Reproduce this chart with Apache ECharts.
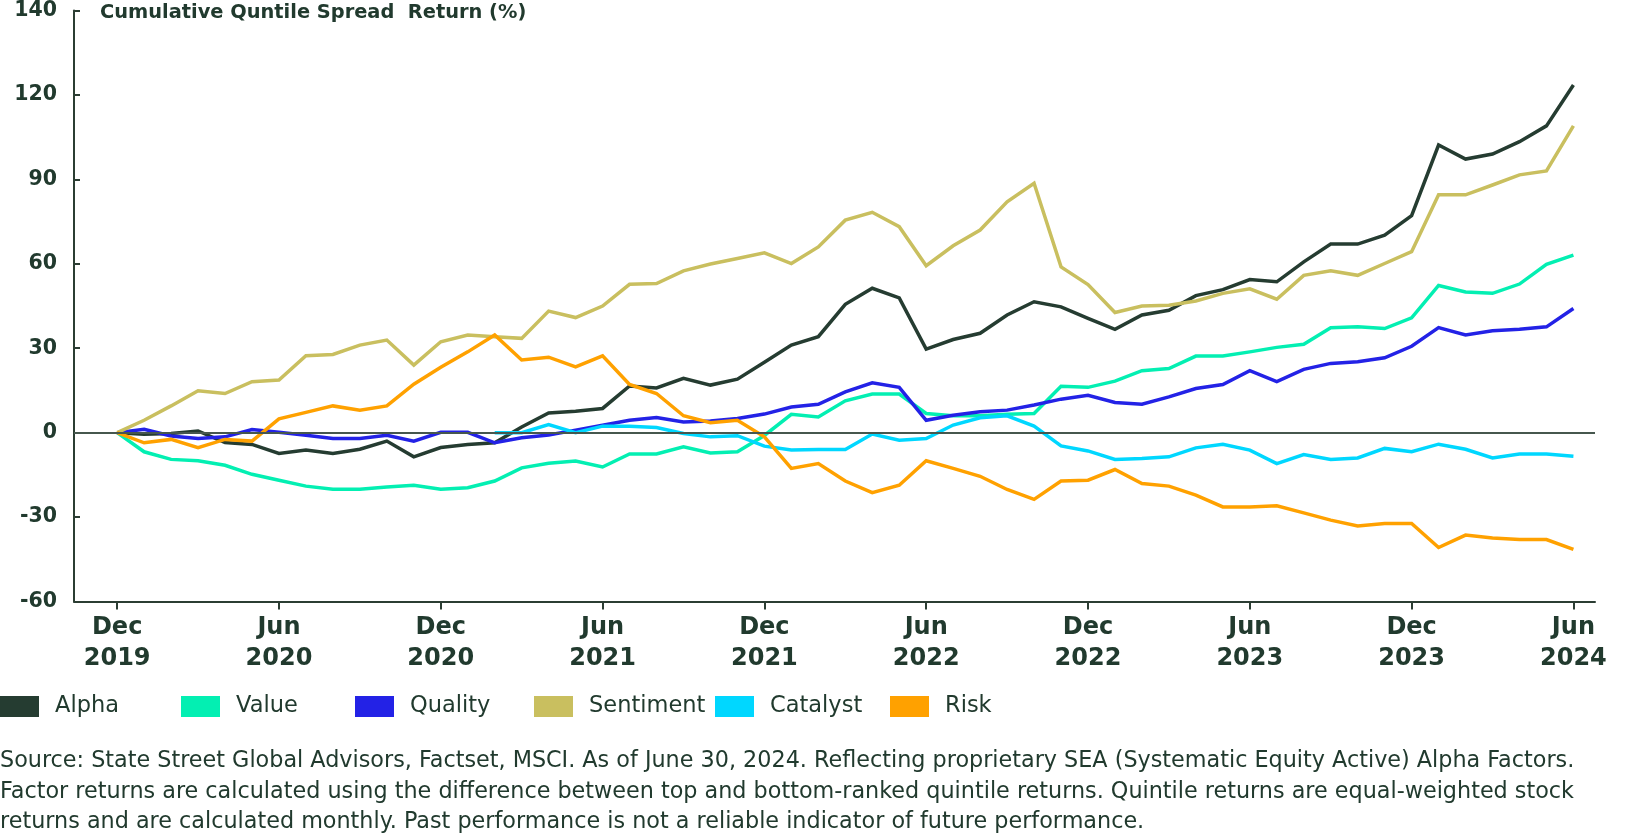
<!DOCTYPE html>
<html>
<head>
<meta charset="utf-8">
<script src="https://cdn.jsdelivr.net/npm/echarts@6/dist/echarts.min.js"></script>
<style>
html,body{margin:0;padding:0;background:#fff;}
#chart{width:1626px;height:840px;}
</style>
</head>
<body>
<div id="chart"></div>
<script>
// Month index 0 = Dec 2019 ... 54 = Jun 2024
const xTickValues = [0, 6, 12, 18, 24, 30, 36, 42, 48, 54];
const xTickLabels = ['Dec\n2019','Jun\n2020','Dec\n2020','Jun\n2021','Dec\n2021','Jun\n2022','Dec\n2022','Jun\n2023','Dec\n2023','Jun\n2024'];
const yTickLabels = ['-60','-30','0','30','60','90','120','140'];

const alpha = [0,-0.6,-0.3,0.6,-3.5,-4.2,-7.4,-6.2,-7.4,-5.9,-3.0,-8.6,-5.3,-4.2,-3.6,2.0,7.0,7.6,8.6,16.6,15.9,19.3,16.9,19.0,25.0,31.1,34.1,45.6,51.3,47.9,29.7,33.1,35.3,41.8,46.5,44.7,40.6,36.7,41.8,43.5,48.7,50.8,54.4,53.6,60.7,67.0,67.0,70.2,77.1,102.2,97.2,99.0,103.4,109.0,123.5];
const value = [0,-6.8,-9.5,-10.0,-11.6,-14.8,-16.9,-19.0,-20.1,-20.1,-19.3,-18.7,-20.1,-19.6,-17.2,-12.5,-10.9,-10.1,-12.2,-7.6,-7.6,-5.0,-7.2,-6.8,-1.0,6.5,5.6,11.3,13.7,13.7,6.8,6.0,6.0,6.5,6.8,16.5,16.1,18.3,22.0,22.8,27.2,27.2,28.7,30.3,31.4,37.3,37.6,37.0,40.8,52.3,50.0,49.5,52.8,59.8,63.1];
const quality = [0,1.2,-1.2,-2.1,-1.5,1.1,0.1,-0.9,-2.1,-2.1,-0.9,-3.0,0.1,0.1,-3.6,-1.8,-0.8,0.9,2.6,4.4,5.4,3.8,4.1,5.0,6.6,9.1,10.1,14.5,17.7,16.1,4.4,6.2,7.4,8.0,9.8,11.9,13.3,10.7,10.1,12.7,15.7,17.1,22.0,18.1,22.5,24.6,25.2,26.6,30.7,37.3,34.7,36.2,36.7,37.6,44.1];
const sentiment = [0,4.4,9.5,14.9,13.9,18.1,18.7,27.3,27.8,31.1,32.9,24.0,32.3,34.7,34.1,33.5,43.2,40.9,45.0,52.7,53.0,57.5,59.9,61.9,63.9,60.1,66.0,75.5,78.3,73.2,59.3,66.4,72.0,82.0,88.6,58.9,52.6,42.7,45.0,45.3,46.8,49.5,51.1,47.4,55.9,57.5,55.9,60.1,64.3,84.5,84.5,88.0,91.6,93.0,109.0];
const catalyst = [null,null,null,null,null,null,null,null,null,null,null,null,null,null,0,0,2.9,0,2.3,2.3,1.8,-0.3,-1.5,-1.1,-4.8,-6.2,-6.0,-6.0,-0.5,-2.7,-2.1,2.7,5.3,6.0,2.3,-4.7,-6.5,-9.5,-9.2,-8.6,-5.4,-4.1,-6.2,-11.0,-7.8,-9.5,-9.0,-5.6,-6.8,-4.1,-5.9,-9.0,-7.6,-7.6,-8.4];
const risk = [0,-3.6,-2.4,-5.3,-2.4,-3.0,4.9,7.2,9.5,8.0,9.5,17.2,23.2,28.7,34.7,25.8,26.8,23.4,27.3,17.1,13.9,6.0,3.5,4.4,-1.5,-12.7,-11.0,-17.2,-21.3,-18.7,-10.0,-12.7,-15.5,-20.2,-23.7,-17.2,-16.9,-13.1,-18.1,-19.0,-22.2,-26.4,-26.4,-26.0,-28.5,-31.1,-33.2,-32.3,-32.3,-40.8,-36.4,-37.4,-38.0,-38.0,-41.5];

const seriesNames = ['Alpha','Value','Quality','Sentiment','Catalyst','Risk'];
const seriesData = [alpha, value, quality, sentiment, catalyst, risk];
const seriesColors = ['#253c31','#03efb2','#2322e6','#c9bf5f','#00d7ff','#ffa100'];

const titleText = 'Cumulative Quntile Spread  Return (%)';
const footnote = [
  'Source: State Street Global Advisors, Factset, MSCI. As of June 30, 2024. Reflecting proprietary SEA (Systematic Equity Active) Alpha Factors.',
  'Factor returns are calculated using the difference between top and bottom-ranked quintile returns. Quintile returns are equal-weighted stock',
  'returns and are calculated monthly. Past performance is not a reliable indicator of future performance.'
];

const TXT = '#213a2e';
const FONT = 'DejaVu Sans';
const legendLefts = [0, 181, 355, 534, 715, 890];

const chart = echarts.init(document.getElementById('chart'));

const series = seriesNames.map((n, k) => ({
  name: n,
  type: 'line',
  data: seriesData[k].map((v, i) => [i, v]),
  showSymbol: false,
  symbol: 'none',
  connectNulls: false,
  lineStyle: { width: 3.5, color: seriesColors[k], join: 'miter' },
  itemStyle: { color: seriesColors[k] },
  z: 3,
  animation: false
}));
// zero line
series.unshift({
  name: '__zero',
  type: 'line',
  data: [],
  z: 2,
  markLine: {
    silent: true,
    symbol: ['none','none'],
    label: { show: false },
    lineStyle: { color: '#46574e', width: 2, type: 'solid' },
    data: [{ yAxis: 0 }],
    animation: false
  }
});

const legends = seriesNames.map((n, k) => ({
  data: [n],
  left: legendLefts[k], top: 695, padding: 0,
  icon: 'rect',
  itemWidth: 39, itemHeight: 21,
  selectedMode: false,
  textStyle: { fontFamily: FONT, fontSize: 22.5, color: TXT, padding: [0,0,0,11] }
}));

chart.setOption({
  backgroundColor: '#ffffff',
  animation: false,
  title: [
    {
      text: titleText,
      left: 100, top: 3, padding: 0,
      textStyle: { fontFamily: FONT, fontWeight: 'bold', fontSize: 19.4, color: TXT }
    },
    {
      text: footnote.join('\n'),
      left: 0, top: 746, padding: 0,
      textStyle: { fontFamily: FONT, fontWeight: 'normal', fontSize: 22.3, lineHeight: 30.5, color: TXT }
    }
  ],
  legend: legends,
  grid: { left: 74, right: 31, top: 10.5, bottom: 238.5, containLabel: false },
  xAxis: {
    type: 'value',
    min: -1.6, max: 54.8,
    axisLine: { show: true, onZero: false, lineStyle: { color: '#2b3d33', width: 2 } },
    axisTick: { show: true, customValues: xTickValues, length: 8, lineStyle: { color: '#2b3d33', width: 2 } },
    axisLabel: {
      customValues: xTickValues,
      formatter: v => xTickLabels[xTickValues.indexOf(v)] || '',
      fontFamily: FONT, fontWeight: 'bold', fontSize: 24, lineHeight: 31, color: TXT, margin: 11
    },
    splitLine: { show: false }
  },
  yAxis: {
    type: 'value',
    min: -60, max: 150, interval: 30,
    axisLine: { show: true, onZero: false, lineStyle: { color: '#2b3d33', width: 2 } },
    axisTick: { show: true, inside: true, length: 6, lineStyle: { color: '#2b3d33', width: 2 } },
    axisLabel: {
      formatter: v => yTickLabels[Math.round((v + 60) / 30)],
      fontFamily: FONT, fontWeight: 'bold', fontSize: 20.5, color: TXT, margin: 17
    },
    splitLine: { show: false }
  },
  series: series
});
</script>
</body>
</html>
